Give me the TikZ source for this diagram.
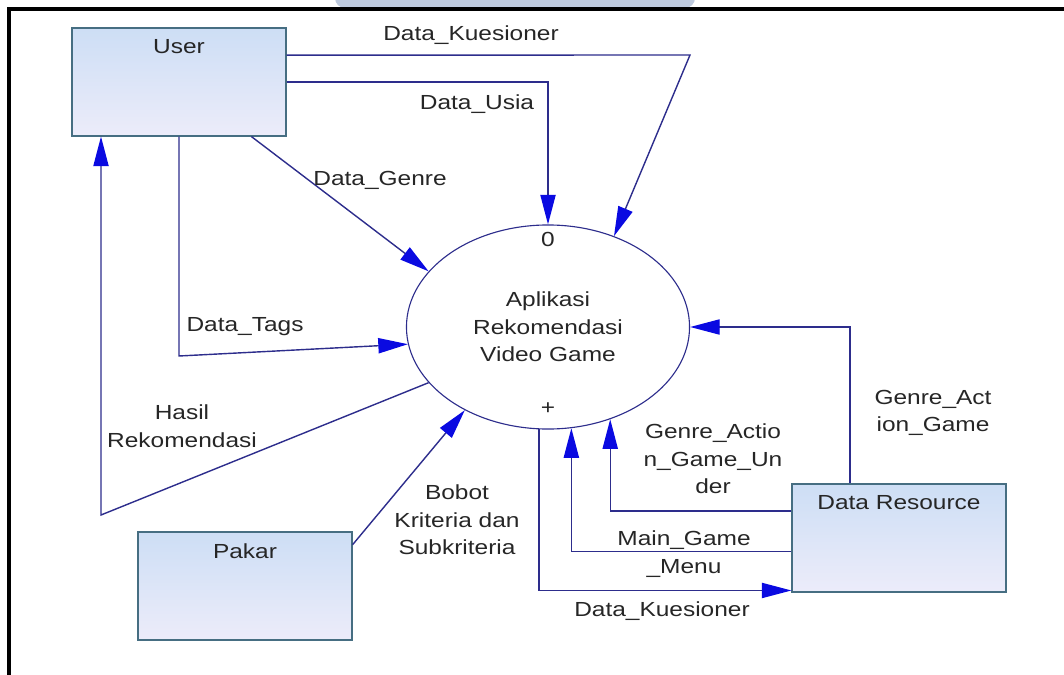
\documentclass[tikz,border=0pt]{standalone}
\usepackage{fontspec}
\setmainfont{Liberation Sans}[FakeStretch=1.2]
\usetikzlibrary{arrows.meta,positioning,shapes.geometric}
\definecolor{flowline}{RGB}{45,45,140}
\definecolor{tipblue}{RGB}{10,10,225}
\definecolor{boxedge}{RGB}{70,110,130}
\definecolor{boxtop}{RGB}{205,222,245}
\definecolor{boxbottom}{RGB}{236,236,250}
\definecolor{bandblue}{RGB}{190,202,222}
\begin{document}
\begin{tikzpicture}[
  x=0.025cm, y=-0.025cm,
  every node/.style={font=\fontsize{14.5}{19.5}\selectfont, text=black!85},
  entity/.style={draw=boxedge, line width=0.8pt, top color=boxtop, bottom color=boxbottom,
    minimum width=5.35cm, minimum height=2.7cm, inner sep=0pt},
  process/.style={ellipse, draw=flowline, line width=0.8pt, minimum width=7.075cm,
    minimum height=5.1cm, align=center, inner sep=0pt},
  flow/.style={draw=flowline, line width=1pt, -{Triangle[length=0.74cm, width=0.38cm, color=tipblue]}},
  tag/.style={align=center}
]
\useasboundingbox (0,0) rectangle (1064,675);
\fill[bandblue, rounded corners=0.25cm] (335,-20) rectangle (695,8);
\draw[line width=2.2pt] (9,675) -- (9,9) -- (1064,9);

\node[entity, label={[below=0.3cm, inner sep=0pt]north:User}] (user) at (179,82) {};
\node[entity, label={[below=0.3cm, inner sep=0pt]north:Pakar}] (pakar) at (245,586) {};
\node[entity, label={[below=0.3cm, inner sep=0pt]north:Data Resource}] (res) at (899,538) {};
\node[process] (proc) at (548,327) {Aplikasi\\Rekomendasi\\Video Game};
\node (pid) at ([yshift=-0.375cm]proc.north) {0};
\node (plus) at ([yshift=0.52cm]proc.south) {+};

\coordinate (kbend) at (690,55);
\coordinate (tbend) at (169,356);
\coordinate (hbend) at (101,515);

\draw[flow] (user.14) -- (kbend) -- (proc.54);
\draw[flow] (user.east) -| (proc.north);
\draw[flow] (user.-37) -- (proc.155);
\draw[flow] (user.south) -- (user.south |- tbend) -- (proc.187);
\draw[flow] (proc.205) -- (hbend) -- (hbend |- user.south);
\draw[flow] (pakar.21) -- (proc.225);
\draw[flow] (res.132) |- (proc.east);
\draw[flow] (res.166) -| (proc.-56);
\draw[flow] (res.187) -| (proc.-77);
\draw[flow] (proc.-95) |- (res.206);

\node (lkues) at (471,35) {Data\_Kuesioner};
\node (lusia) at (477,104) {Data\_Usia};
\node (lgenre) at (380,180) {Data\_Genre};
\node (ltags) at (245,327) {Data\_Tags};
\node[tag] (lhasil) at (182,426) {Hasil\\Rekomendasi};
\node[tag] (lbobot) at (457,520) {Bobot\\Kriteria dan\\Subkriteria};
\node[tag] (lunder) at (713,459) {Genre\_Actio\\n\_Game\_Un\\der};
\node[tag] (laction) at (933,413) {Genre\_Act\\ion\_Game};
\node[tag] (lmenu) at (684,554) {Main\_Game\\\_Menu};
\node (lkues2) at (662,611) {Data\_Kuesioner};
\end{tikzpicture}
\end{document}
